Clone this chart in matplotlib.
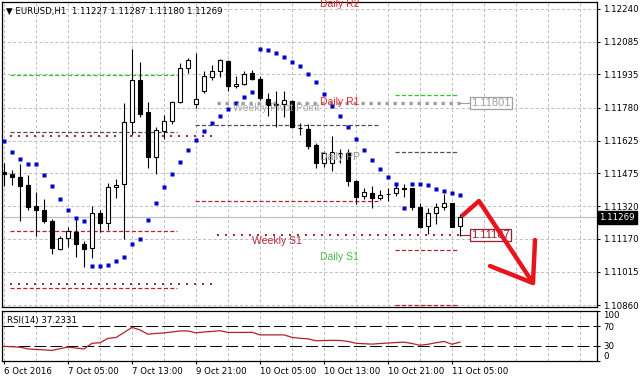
import numpy as np
import matplotlib
matplotlib.use("Agg")
import matplotlib.pyplot as plt
import matplotlib.transforms as mtransforms

plt.rcParams['font.family'] = 'DejaVu Sans'
plt.rcParams['lines.scale_dashes'] = False

# EURUSD H1 bars, oldest first
opens = [1.11482, 1.11470, 1.11459, 1.11420, 1.11320, 1.11304, 1.11253, 1.11124, 1.11172, 1.11203,
         1.11146, 1.11126, 1.11289, 1.11242, 1.11410, 1.11423, 1.11712, 1.11907, 1.11760, 1.11552,
         1.11673, 1.11717, 1.11808, 1.11963, 1.11796, 1.11856, 1.11924, 1.11951, 1.11997, 1.11878,
         1.11889, 1.11940, 1.11914, 1.11819, 1.11793, 1.11797, 1.11811, 1.11686, 1.11681, 1.11606,
         1.11521, 1.11524, 1.11570, 1.11568, 1.11439, 1.11369, 1.11382, 1.11358, 1.11376, 1.11382,
         1.11405, 1.11405, 1.11316, 1.11230, 1.11289, 1.11316, 1.11335, 1.11227]
highs = [1.11521, 1.11490, 1.11518, 1.11467, 1.11389, 1.11354, 1.11261, 1.11180, 1.11226, 1.11258,
         1.11157, 1.11320, 1.11304, 1.11428, 1.11447, 1.11800, 1.12052, 1.11994, 1.11805, 1.11689,
         1.11746, 1.11811, 1.11986, 1.12010, 1.12036, 1.11948, 1.11979, 1.12007, 1.12002, 1.11928,
         1.11948, 1.11955, 1.11928, 1.11847, 1.11859, 1.11859, 1.11813, 1.11707, 1.11704, 1.11614,
         1.11580, 1.11648, 1.11586, 1.11586, 1.11442, 1.11405, 1.11416, 1.11397, 1.11405, 1.11431,
         1.11425, 1.11407, 1.11335, 1.11312, 1.11335, 1.11378, 1.11338, 1.11287]
lows = [1.11413, 1.11420, 1.11250, 1.11304, 1.11180, 1.11245, 1.11098, 1.11118, 1.11133, 1.11084,
        1.11040, 1.11079, 1.11199, 1.11211, 1.11358, 1.11168, 1.11653, 1.11738, 1.11501, 1.11470,
        1.11634, 1.11703, 1.11800, 1.11940, 1.11777, 1.11846, 1.11906, 1.11921, 1.11859, 1.11873,
        1.11886, 1.11909, 1.11816, 1.11741, 1.11689, 1.11735, 1.11684, 1.11650, 1.11586, 1.11501,
        1.11505, 1.11486, 1.11524, 1.11417, 1.11330, 1.11355, 1.11312, 1.11350, 1.11347, 1.11369,
        1.11366, 1.11304, 1.11220, 1.11192, 1.11239, 1.11304, 1.11222, 1.11180]
closes = [1.11470, 1.11456, 1.11417, 1.11315, 1.11301, 1.11250, 1.11126, 1.11172, 1.11205, 1.11144,
          1.11124, 1.11289, 1.11245, 1.11410, 1.11420, 1.11712, 1.11907, 1.11752, 1.11552, 1.11676,
          1.11718, 1.11805, 1.11963, 1.11999, 1.11819, 1.11928, 1.11951, 1.12002, 1.11878, 1.11890,
          1.11935, 1.11912, 1.11824, 1.11793, 1.11798, 1.11813, 1.11689, 1.11683, 1.11603, 1.11521,
          1.11568, 1.11572, 1.11568, 1.11436, 1.11363, 1.11386, 1.11358, 1.11374, 1.11380, 1.11405,
          1.11403, 1.11316, 1.11223, 1.11289, 1.11316, 1.11335, 1.11226, 1.11269]

psar = [1.11622, 1.11575, 1.11541, 1.11518, 1.11518, 1.11467, 1.11413, 1.11355, 1.11304, 1.11268,
        1.11253, 1.11043, 1.11043, 1.11048, 1.11064, 1.11084, 1.11146, 1.11169, 1.11258, 1.11338,
        1.11408, 1.11472, 1.11527, 1.11583, 1.11630, 1.11673, 1.11710, 1.11741, 1.11774, 1.11803,
        1.11828, 1.11852, 1.12053, 1.12049, 1.12036, 1.12014, 1.11993, 1.11971, 1.11937, 1.11897,
        1.11844, 1.11788, 1.11741, 1.11689, 1.11634, 1.11583, 1.11537, 1.11493, 1.11455, 1.11424,
        1.11313, 1.11424, 1.11424, 1.11420, 1.11401, 1.11392, 1.11382, 1.11373]

rsi = [28.7, 28.0, 27.0, 23.5, 22.5, 21.5, 20.5, 24.0, 27.3, 25.3,
       23.5, 35.0, 36.0, 45.0, 46.7, 56.7, 67.3, 62.0, 53.3, 55.0,
       56.0, 58.0, 60.0, 60.0, 56.0, 58.0, 59.0, 60.5, 57.0, 57.0,
       57.0, 57.3, 52.0, 52.0, 52.0, 52.0, 47.0, 45.0, 44.0, 40.0,
       40.5, 41.0, 40.7, 38.7, 35.0, 34.0, 33.3, 34.5, 35.5, 36.5,
       37.3, 34.5, 31.0, 33.0, 36.0, 38.7, 33.0, 37.2331]

price_ticks = [1.12240, 1.12085, 1.11935, 1.11780, 1.11625, 1.11475, 1.11320, 1.11170, 1.11015, 1.10860]
time_bars = [0, 8, 16, 24, 32, 40, 48, 56]
time_labels = ["6 Oct 2016", "7 Oct 05:00", "7 Oct 13:00", "9 Oct 21:00",
               "10 Oct 05:00", "10 Oct 13:00", "10 Oct 21:00", "11 Oct 05:00"]

# daily pivot levels: kind, price, first bar, last bar
daily_kind = ["R1", "PP", "S1", "S2", "PP", "S1", "R1", "PP", "S1", "S2"]
daily_price = [1.11933, 1.11665, 1.11204, 1.10940, 1.11697, 1.11344, 1.11838, 1.11572, 1.11117, 1.10861]
daily_from = [0.7, 0.7, 0.7, 0.7, 23.9, 23.9, 48.9, 48.9, 48.9, 48.9]
daily_to = [21.6, 21.6, 21.6, 21.6, 46.75, 46.75, 56.75, 56.75, 56.75, 56.75]

# weekly levels
weekly_kind = ["old", "old", "PP", "S1"]
weekly_price = [1.11648, 1.10959, 1.11801, 1.11187]
weekly_from = [0.7, 0.7, 26.6, 26.6]
weekly_to = [26.0, 26.0, 57.0, 57.0]

current_price = 1.11269
title = "\u25bc EURUSD,H1  1.11227 1.11287 1.11180 1.11269"

fig = plt.figure(figsize=(6.41, 3.82), dpi=100)
ax = fig.add_axes([2 / 641, 1 - 307 / 382, 595 / 641, 305 / 382])
ax2 = fig.add_axes([2 / 641, 1 - 361 / 382, 595 / 641, 50 / 382])

n = len(opens)
idx = np.arange(n)
xmin, xmax = -0.25, 74.125
grid_kw = dict(color='#c0c0c0', lw=0.72, ls=(0, (2.2, 1.6)), zorder=0)

# ---- main panel
ax.set_xlim(xmin, xmax)
ax.set_ylim(1.10852, 1.12271)
for g in range(0, 76, 4):
    ax.axvline(g, **grid_kw)
    ax2.axvline(g, **grid_kw)
for p in price_ticks:
    ax.axhline(p, **grid_kw)

ax.axhline(current_price, color='#c0c0c0', lw=0.9, zorder=1)

dash_style = {"R1": '#2ec82e', "PP": '#505050', "S1": '#b8222e', "S2": '#b8222e'}
for k, p, a, b in zip(daily_kind, daily_price, daily_from, daily_to):
    ax.plot([a, b], [p, p], color=dash_style[k], lw=0.9, ls=(0, (3.0, 1.6)), zorder=2)

for k, p, a, b in zip(weekly_kind, weekly_price, weekly_from, weekly_to):
    if k == "PP":
        ax.plot([a, b], [p, p], color='#a0a0a0', lw=2.4, ls=(0, (2.4, 3.36)), zorder=2)
    else:
        ax.plot([a, b], [p, p], color='#a01e32', lw=1.4, ls=(0, (1.4, 4.36)), zorder=2)

o = np.array(opens)
c = np.array(closes)
up = c >= o
ax.vlines(idx, lows, highs, color='black', lw=0.8, zorder=3)
ax.bar(idx, np.maximum(np.abs(c - o), 1e-6), bottom=np.minimum(o, c), width=0.6,
       color=np.where(up, 'white', 'black'), edgecolor='black', linewidth=0.8, zorder=4)
ax.plot(idx, psar, 's', color='#0000c8', ms=2.4, mec='none', zorder=5)

# level captions
ax.text(39.5, 1.12262, "Daily R2", color='#e02828', fontsize=7.5, family='Liberation Sans', va='center')
ax.text(39.5, 1.11806, "Daily R1", color='#e02828', fontsize=7.5, family='Liberation Sans', va='center', zorder=6)
ax.text(28.6, 1.11778, "Weekly Pivot Point", color='#a8a8a8', fontsize=7.5, family='Liberation Sans', va='center', zorder=6)
ax.text(39.5, 1.11550, "Daily PP", color='#8c8c8c', fontsize=7.5, family='Liberation Sans', va='center', zorder=6)
ax.text(31.0, 1.11157, "Weekly S1", color='#b4283c', fontsize=7.5, family='Liberation Sans', va='center')
ax.text(39.5, 1.11085, "Daily S1", color='#4cbb4c', fontsize=7.5, family='Liberation Sans', va='center')

# price label boxes at the end of weekly lines
for p, col in [(weekly_price[2], '#a0a0a0'), (weekly_price[3], '#a01e32')]:
    ax.plot([57, 58.25], [p, p], color=col, lw=0.8, zorder=2)
    ax.text(58.43, p, "%.5f" % p, color=col, fontsize=8, family='Liberation Sans', va='center',
            bbox=dict(fc='white', ec=col, lw=0.9, pad=1.0), zorder=6)

# hand drawn arrow
arrow_col = '#e8141c'
ax.plot([0.7748, 0.8017, 0.8924], [0.3016, 0.3475, 0.0787], transform=ax.transAxes,
        color=arrow_col, lw=3.2, solid_capstyle='round', solid_joinstyle='round', zorder=7)
ax.plot([0.8202, 0.8924, 0.8958], [0.1344, 0.0787, 0.2197], transform=ax.transAxes,
        color=arrow_col, lw=3.2, solid_capstyle='round', solid_joinstyle='round', zorder=7)

ax.text(0.006, 0.968, title, transform=ax.transAxes, fontsize=6.2, va='center', ha='left')

ax.set_xticks([])
ax.yaxis.tick_right()
ax.set_yticks(price_ticks)
ax.set_yticklabels(["%.5f" % p for p in price_ticks])
ax.tick_params(axis='y', length=2.2, width=0.8, pad=2.2, labelsize=6.2)

trans = mtransforms.blended_transform_factory(ax.transAxes, ax.transData)
ax.text(1.004, current_price, "%.5f" % current_price, transform=trans, color='white', fontsize=6.2,
        va='center', ha='left', bbox=dict(fc='black', ec='black', pad=1.2), clip_on=False, zorder=8)

# ---- RSI panel
ax2.set_xlim(xmin, xmax)
ax2.set_ylim(-1, 100.5)
for lvl in (70, 30):
    ax2.axhline(lvl, color='black', lw=0.72, ls=(0, (8.6, 2.9)), zorder=1)
ax2.plot(idx, rsi, color='#b4202a', lw=0.9, zorder=3)
ax2.text(0.008, 0.82, "RSI(14) %.4f" % rsi[-1], transform=ax2.transAxes, fontsize=6.2, va='center')

ax2.yaxis.tick_right()
ax2.set_yticks([100, 70, 30, 0])
ax2.set_yticklabels(["100", "70", "30", "0"])
ax2.tick_params(axis='y', length=2.2, width=0.8, pad=2.2, labelsize=6.2)
labs = ax2.get_yticklabels()
labs[0].set_va('top')
labs[3].set_va('bottom')

ax2.set_xticks(time_bars)
ax2.set_xticklabels(time_labels, ha='left')
ax2.tick_params(axis='x', length=2.2, width=0.8, pad=2.0, labelsize=6.2)

for a in (ax, ax2):
    for s in a.spines.values():
        s.set_color('black')
        s.set_linewidth(0.9)

fig.savefig("out.png", dpi=100, facecolor='white')
